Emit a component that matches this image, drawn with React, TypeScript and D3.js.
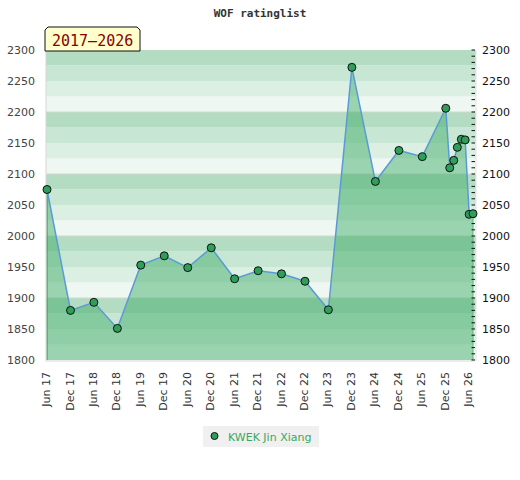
import React from 'react';
import * as d3 from 'd3';

// rating lists, Jun 2017 .. Jul 2026
const months = [
  '2017-06', '2017-12', '2018-06', '2018-12', '2019-06', '2019-12',
  '2020-06', '2020-12', '2021-06', '2021-12', '2022-06', '2022-12',
  '2023-06', '2023-12', '2024-06', '2024-12', '2025-06', '2025-12',
  '2026-01', '2026-02', '2026-03', '2026-04', '2026-05', '2026-06', '2026-07',
];
const ratings = [
  2075, 1880, 1893, 1851, 1953, 1968,
  1949, 1981, 1931, 1944, 1939, 1927,
  1881, 2272, 2088, 2138, 2128, 2206,
  2110, 2122, 2143, 2156, 2155, 2035, 2036,
];
const yTicks = [1800, 1850, 1900, 1950, 2000, 2050, 2100, 2150, 2200, 2250, 2300];
const bandShades = ['#b3dcc3', '#c8e6d4', '#dcefe3', '#eef7f1'];
const playerName = 'KWEK Jin Xiang';
const titleText = 'WOF ratinglist';
const periodText = '2017–2026';

const parse = d3.timeParse('%Y-%m');

const App = () => {
  const width = 520;
  const height = 480;
  const left = 46;
  const right = 473;
  const top = 50;
  const bottom = 360;

  const dates = months.map((m) => parse(m) as Date);
  const points = dates.map((d, i) => ({ date: d, value: ratings[i] }));

  const x = d3.scaleTime()
    .domain([dates[0], dates[dates.length - 1]])
    .range([47, right]);
  const y = d3.scaleLinear().domain([1800, 2300]).range([bottom, top]);

  // half-year ticks (Jun / Dec)
  const xTicks = d3.timeMonth
    .range(dates[0], dates[dates.length - 1])
    .filter((d) => d.getMonth() === 5 || d.getMonth() === 11);
  const fmt = d3.timeFormat('%b %y');

  // background bands, 25 points each
  const bands = d3.range(1800, 2300, 25).map((v) => ({
    v,
    shade: bandShades[3 - ((v - 1800) / 25) % 4],
  }));

  const area = d3.area<{ date: Date; value: number }>()
    .x((d) => x(d.date))
    .y0(bottom)
    .y1((d) => y(d.value));
  const line = d3.line<{ date: Date; value: number }>()
    .x((d) => x(d.date))
    .y((d) => y(d.value));

  const minor = d3.range(1800, 2301, 10);
  const first = points[0];

  return (
    <svg width={width} height={height} style={{ position: 'absolute', left: 0, top: 0 }}>
      <rect width={width} height={height} fill="#fff" />
      <text x={260} y={17} textAnchor="middle" fontFamily="DejaVu Sans Mono" fontWeight="bold"
        fontSize={11} fill="#333">{titleText}</text>

      {bands.map((b) => (
        <rect key={b.v} x={left} width={476 - left} y={y(b.v + 25)} height={y(b.v) - y(b.v + 25)}
          fill={b.shade} />
      ))}
      {[1900, 2000, 2100, 2200].map((v) => (
        <line key={v} x1={left} x2={476} y1={y(v)} y2={y(v)} stroke="#cfd8d2" strokeWidth={1} />
      ))}

      <path d={area(points) || ''} fill="rgb(60,170,100)" fillOpacity={0.47} />
      <line x1={x(first.date)} x2={x(first.date)} y1={y(first.value)} y2={bottom}
        stroke="#3c9e5e" strokeWidth={1.2} />
      <line x1={right} x2={right} y1={y(2036)} y2={bottom} stroke="#5fb37d" strokeWidth={1} />
      <path d={line(points) || ''} fill="none" stroke="#5b9bd5" strokeWidth={1.5} />

      {/* frame */}
      <line x1={left} x2={left} y1={top} y2={bottom + 1} stroke="#d6d6d6" />
      <line x1={left} x2={right + 1} y1={bottom + 1} y2={bottom + 1} stroke="#d6d6d6" />
      <line x1={476} x2={476} y1={top} y2={bottom + 1} stroke="#e4e4e4" />

      {minor.map((v) => (
        <line key={v} x1={right - 1.5} x2={right + 2} y1={y(v)} y2={y(v)} stroke="#111" strokeWidth={1} />
      ))}

      {points.map((p, i) => (
        <circle key={i} cx={x(p.date)} cy={y(p.value)} r={4} fill="#2e9e5b" stroke="#111" strokeWidth={1} />
      ))}

      {yTicks.map((v) => (
        <g key={v} fontFamily="DejaVu Sans" fontSize={11}>
          <text x={35} y={y(v) + 4} textAnchor="end" fill="#444">{v}</text>
          <text x={482} y={y(v) + 4} fill="#111">{v}</text>
        </g>
      ))}

      {xTicks.map((d, i) => (
        <text key={i} transform={`translate(${x(d) + 3},372) rotate(-90)`} textAnchor="end"
          fontFamily="DejaVu Sans" fontSize={11} fill="#333">{fmt(d)}</text>
      ))}

      {/* period badge */}
      <path d="M45,51 L45,30 L48,27 L137,27 L140,30 L140,51 Z" fill="#ffffcc" stroke="#111" strokeWidth={1} />
      <text x={52} y={46} fontFamily="DejaVu Sans Mono" fontSize={15} fill="#8b0000">{periodText}</text>

      {/* legend */}
      <rect x={203} y={426} width={116} height={21} fill="#f0f0f0" />
      <circle cx={214.5} cy={436} r={3.5} fill="#2e9e5b" stroke="#111" strokeWidth={1} />
      <text x={228} y={440.5} fontFamily="DejaVu Sans" fontSize={11} fill="#3aa860">{playerName}</text>
    </svg>
  );
};

export default App;
